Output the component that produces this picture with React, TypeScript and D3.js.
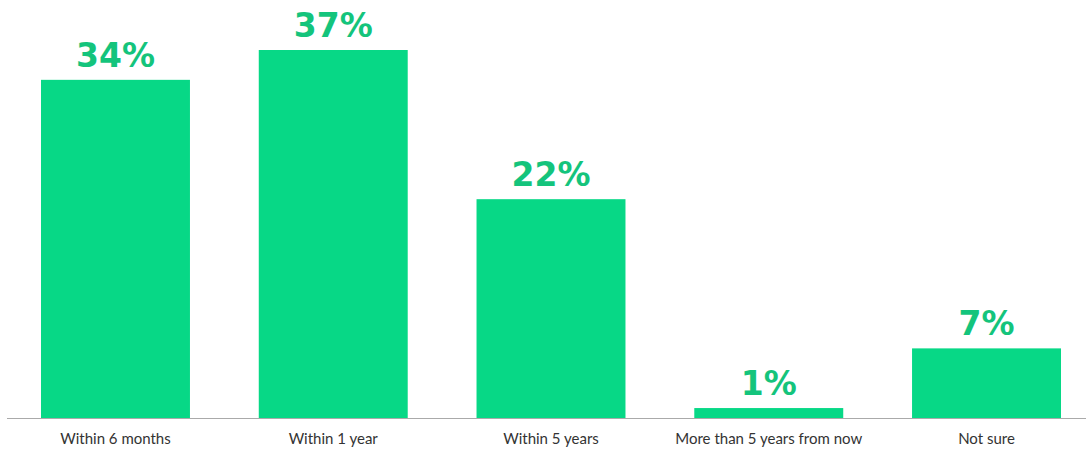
import React from "react";
import * as d3 from "d3";

const categories = ["Within 6 months", "Within 1 year", "Within 5 years", "More than 5 years from now", "Not sure"];
const values = [34, 37, 22, 1, 7];
const valueLabels = ["34%", "37%", "22%", "1%", "7%"];

const W = 1086;
const H = 450;
const baseY = 418;

export default function App() {
  const x = d3.scaleBand<string>().domain(categories).range([6.6, 1095.4]).paddingInner(0.316).paddingOuter(0.158);
  const y = d3.scaleLinear().domain([0, 37]).range([baseY, 50]);
  return (
    <svg width={W} height={H} style={{ position: "absolute", left: 0, top: 0 }}>
      {categories.map((c, i) => (
        <g key={c}>
          <rect x={x(c)} y={y(values[i])} width={x.bandwidth()} height={baseY - y(values[i])} fill="#07d886" />
          <text
            x={(x(c) as number) + x.bandwidth() / 2}
            y={y(values[i]) - 13}
            textAnchor="middle"
            fontFamily="'DejaVu Sans', sans-serif"
            fontWeight={700}
            fontSize={33}
            fill="#14c47c"
          >
            {valueLabels[i]}
          </text>
          <text
            x={(x(c) as number) + x.bandwidth() / 2}
            y={baseY + 26}
            textAnchor="middle"
            fontFamily="Lato, sans-serif"
            fontSize={15}
            fill="#333"
          >
            {c}
          </text>
        </g>
      ))}
      <line x1={7} x2={1086} y1={baseY + 0.5} y2={baseY + 0.5} stroke="#aaa" strokeWidth={1} />
    </svg>
  );
}
